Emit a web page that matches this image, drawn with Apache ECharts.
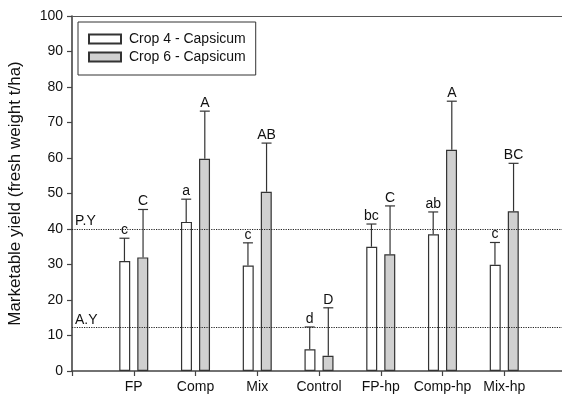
<!DOCTYPE html>
<html><head><meta charset="utf-8">
<script src="https://cdn.jsdelivr.net/npm/echarts@6/dist/echarts.min.js"></script>
<style>html,body{margin:0;padding:0;background:#fff}#c{width:562px;height:398px}</style>
</head><body><div id="c"></div>
<script>
var categories = ['FP','Comp','Mix','Control','FP-hp','Comp-hp','Mix-hp'];
var crop4 = [31.0, 42.0, 29.7, 6.1, 35.0, 38.5, 29.9];
var crop4Err = [37.4, 48.4, 36.1, 12.4, 41.4, 44.8, 36.2];
var crop4Letters = ['c','a','c','d','bc','ab','c'];
var crop6 = [32.0, 59.8, 50.5, 4.3, 32.9, 62.3, 45.0];
var crop6Err = [45.5, 73.2, 64.2, 17.8, 46.5, 76.0, 58.5];
var crop6Letters = ['C','A','AB','D','C','A','BC'];
var yTicks = {min:0, max:100, interval:10};
var refLines = [{name:'P.Y', value:40}, {name:'A.Y', value:12.2}];

var FONT = 'Liberation Sans, Arial, sans-serif';
var chart = echarts.init(document.getElementById('c'));

function errSeries(vals, errs, letters, dx) {
  return {
    type: 'custom',
    silent: true,
    clip: false,
    z: 5,
    data: vals.map(function(v,i){ return [i+1, v, errs[i], letters[i]]; }),
    encode: {x:0, y:1},
    renderItem: function(params, api) {
      var base = api.coord([api.value(0), api.value(1)]);
      var top = api.coord([api.value(0), api.value(2)]);
      var x = base[0] + dx;
      var lbl = letters[params.dataIndex];
      return {
        type: 'group',
        children: [
          {type:'line', shape:{x1:x, y1:base[1], x2:x, y2:top[1]}, style:{stroke:'#333', lineWidth:1.2}},
          {type:'line', shape:{x1:x-5, y1:top[1], x2:x+5, y2:top[1]}, style:{stroke:'#333', lineWidth:1.2}},
          {type:'text', style:{text:lbl, x:x, y:top[1]-1, textAlign:'center', textVerticalAlign:'bottom', font:'14px ' + FONT, fill:'#111'}}
        ]
      };
    }
  };
}

chart.setOption({
  animation: false,
  grid: {left:72, top:16, width:494, bottom:27, outerBoundsMode:'none', containLabel:false, show:false},
  legend: {
    left: 78, top: 22, orient: 'vertical',
    itemWidth: 32, itemHeight: 9, itemGap: 4,
    padding: [10, 10, 11, 10],
    borderColor: '#333', borderWidth: 1,
    textStyle: {fontFamily: FONT, fontSize: 14, color:'#111', padding:[0,0,0,3]},
    icon: 'rect',
    data: ['Crop 4 - Capsicum', 'Crop 6 - Capsicum']
  },
  xAxis: [{
    type: 'value', min: 0, max: 8, interval: 1,
    axisLine: {show:true, lineStyle:{color:'#444', width:1.6}},
    axisTick: {show:true, length:5, lineStyle:{color:'#444', width:1.2}},
    axisLabel: {fontFamily: FONT, fontSize: 14, color:'#111', margin: 9,
      formatter: function(v){ return categories[v-1] || ''; }},
    splitLine: {show:false}
  }, {
    type: 'value', position: 'top', min: 0, max: 8,
    axisLine: {show:true, lineStyle:{color:'#555', width:1.2}},
    axisTick: {show:false}, axisLabel: {show:false}, splitLine: {show:false}
  }],
  yAxis: {
    type: 'value', min: yTicks.min, max: yTicks.max, interval: yTicks.interval,
    name: 'Marketable yield (fresh weight t/ha)', nameLocation: 'middle', nameGap: 48,
    nameTextStyle: {fontFamily: FONT, fontSize: 17, color:'#111'},
    axisLine: {show:true, lineStyle:{color:'#444', width:1.6}},
    axisTick: {show:true, length:5, lineStyle:{color:'#444', width:1.2}},
    axisLabel: {fontFamily: FONT, fontSize: 14, color:'#111', margin: 9},
    splitLine: {show:false}
  },
  series: [
    {
      name: 'Crop 4 - Capsicum', type: 'bar', barWidth: 11, barGap: '64%',
      itemStyle: {color:'#ffffff', borderColor:'#333', borderWidth:1.2},
      data: crop4.map(function(v,i){ return [i+1, v]; }),
      markLine: {
        silent: true, symbol: 'none',
        lineStyle: {type:'dotted', color:'#222', width:1.2},
        label: {position:'insideStartTop', formatter:'{b}', fontFamily: FONT, fontSize:14, color:'#111', distance:[3,1]},
        data: refLines.map(function(r){ return {name:r.name, yAxis:r.value}; })
      }
    },
    {
      name: 'Crop 6 - Capsicum', type: 'bar', barWidth: 11, barGap: '64%',
      itemStyle: {color:'#d0d0d0', borderColor:'#333', borderWidth:1.2},
      data: crop6.map(function(v,i){ return [i+1, v]; })
    },
    errSeries(crop4, crop4Err, crop4Letters, -9.3),
    errSeries(crop6, crop6Err, crop6Letters, 9.3)
  ]
});
</script></body></html>
